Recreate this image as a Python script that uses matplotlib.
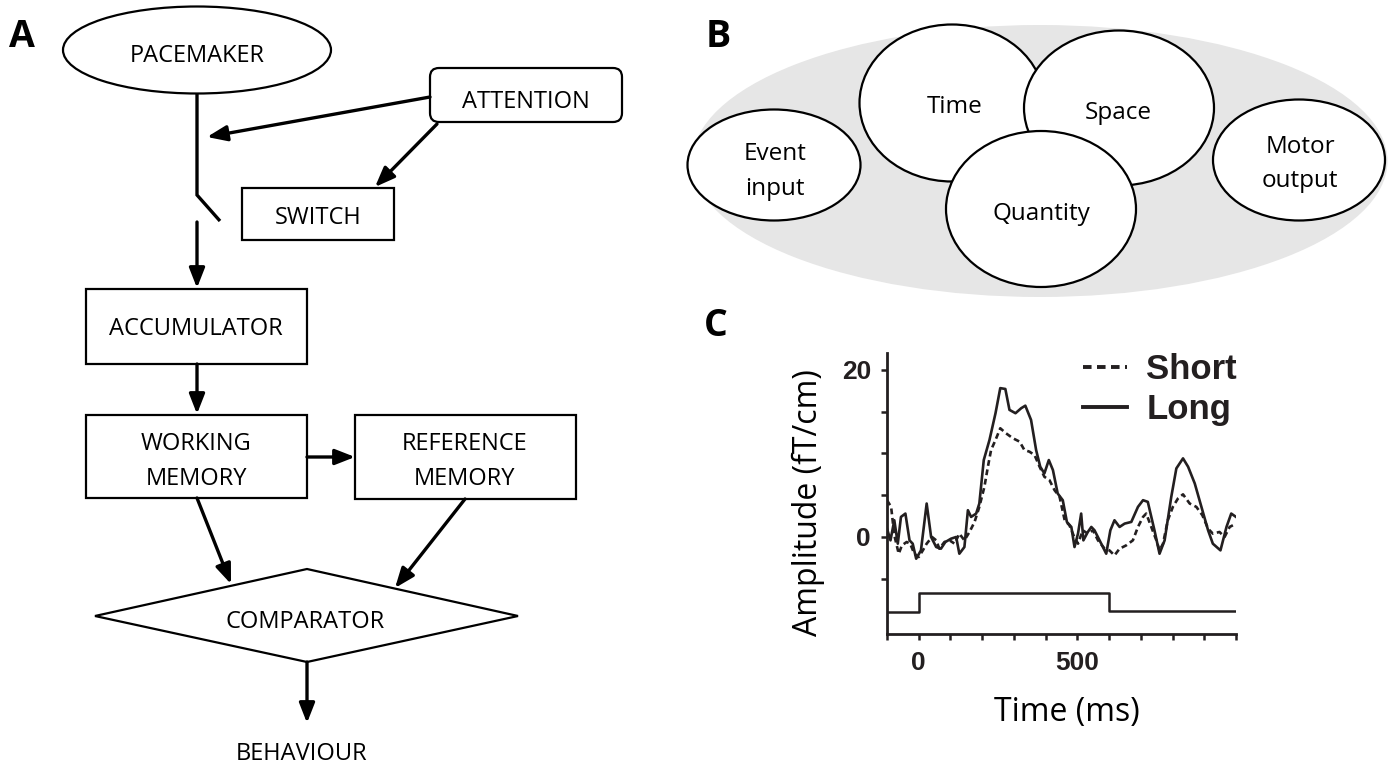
import matplotlib
matplotlib.use('Agg')
import matplotlib.pyplot as plt
from matplotlib.patches import Ellipse, Rectangle, FancyBboxPatch, Polygon
from matplotlib.ticker import FixedLocator, NullFormatter

# ---------------- data (panel C) ----------------
time_long = [-100, -89, -77, -66, -56, -42, -29, -19, -8, 7,
             25, 39, 55, 70, 84, 102, 118, 128, 144, 155,
             165, 181, 191, 205, 223, 242, 257, 273, 286, 305,
             323, 336, 354, 370, 383, 396, 410, 423, 438, 454,
             467, 481, 491, 502, 512, 519, 533, 544, 554, 570,
             591, 604, 617, 633, 649, 670, 691, 707, 722, 743,
             759, 775, 796, 812, 833, 849, 870, 891, 912, 927,
             951, 970, 985, 1000]
amp_long = [1.0, -0.4, 2.0, -0.8, 2.4, 2.8, -0.4, -0.8, -2.6, -1.6,
            4.0, 0.0, -1.2, -1.4, -0.6, -0.2, 0.0, -2.0, -1.2, 3.2,
            2.4, 2.8, 4.0, 9.2, 11.6, 14.8, 17.8, 17.7, 15.2, 14.8,
            15.4, 15.7, 14.0, 10.4, 8.4, 7.6, 9.2, 8.0, 5.2, 4.4,
            1.8, 1.2, -1.2, 0.4, 2.8, -0.4, 0.6, 1.2, 0.8, -0.4,
            -2.0, 0.8, 2.0, 1.2, 1.6, 1.8, 3.6, 4.4, 4.2, 0.8,
            -2.0, -0.4, 4.8, 8.2, 9.4, 8.4, 6.4, 3.6, 0.8, -0.8,
            -1.6, 1.2, 2.8, 2.4]
time_short = [-100, -87, -77, -63, -53, -38, -27, -14, 0, 13,
              25, 42, 55, 65, 81, 97, 113, 128, 144, 160,
              176, 191, 207, 218, 228, 242, 257, 275, 297, 318,
              333, 349, 365, 381, 396, 412, 428, 444, 460, 475,
              488, 502, 517, 533, 549, 565, 586, 601, 617, 633,
              654, 675, 691, 707, 717, 733, 749, 759, 770, 785,
              801, 817, 833, 854, 875, 894, 912, 927, 948, 964,
              980, 1000]
amp_short = [4.4, 3.6, 0.2, -2.0, -1.0, -0.6, -0.8, -2.0, -2.4, -1.6,
             -0.8, 0.0, -0.4, -1.4, -0.6, -0.4, -0.8, 0.4, -0.4, 0.6,
             1.8, 3.6, 6.0, 8.4, 10.4, 11.6, 13.0, 12.4, 11.8, 11.4,
             10.4, 10.2, 9.8, 8.4, 7.2, 6.8, 5.6, 4.8, 2.0, 1.4,
             0.2, -0.8, 0.8, 0.4, 0.8, -0.4, -1.4, -1.6, -2.2, -1.4,
             -1.0, -0.4, 1.2, 2.4, 2.8, 1.2, -0.4, -1.6, -0.8, 2.0,
             3.6, 4.6, 5.1, 4.0, 3.6, 2.6, 1.0, 0.4, 0.6, 0.0,
             1.2, 1.6]
stim_time = [-100, 0, 600, 1000]
stim_level = [-9.0, -6.7, -8.8, -8.8]
xticks_major = [0, 500]
xticks_minor = [-100, 100, 200, 300, 400, 600, 700, 800, 900, 1000]
yticks_major = [0, 20]
yticks_minor = [-5, 5, 10, 15]
legend_labels = ['Short', 'Long']
x_label = 'Time (ms)'
y_label = 'Amplitude (fT/cm)'

# ---------------- diagram text ----------------
panel_labels = ['A', 'B', 'C']
pace_label = 'PACEMAKER'
attention_label = 'ATTENTION'
switch_label = 'SWITCH'
accum_label = 'ACCUMULATOR'
wm_label = ['WORKING', 'MEMORY']
rm_label = ['REFERENCE', 'MEMORY']
comp_label = 'COMPARATOR'
behav_label = 'BEHAVIOUR'
b_labels = ['Time', 'Space', 'Quantity', 'Event', 'input', 'Motor', 'output']

W, H = 1392, 765
FONT = ['Open Sans', 'DejaVu Sans']
ARIAL = ['Liberation Sans', 'DejaVu Sans']

fig = plt.figure(figsize=(W / 100, H / 100), dpi=100)
fig.patch.set_facecolor('white')

# pixel-space axes for diagrams
dax = fig.add_axes([0, 0, 1, 1])
dax.set_xlim(0, W)
dax.set_ylim(H, 0)
dax.axis('off')

TXT = dict(family=FONT, fontsize=17, ha='center', va='baseline', color='black')
LW_BOX = 1.6
LW_ARR = 2.4


def arrow(p0, p1):
    dax.annotate('', xy=p1, xytext=p0,
                 arrowprops=dict(arrowstyle='-|>,head_length=1.2,head_width=0.47',
                                 lw=LW_ARR, color='black', shrinkA=0, shrinkB=0))


def rect(x0, y0, x1, y1, rounded=False):
    if rounded:
        p = FancyBboxPatch((x0, y0), x1 - x0, y1 - y0,
                           boxstyle='round,pad=0,rounding_size=9',
                           fc='white', ec='black', lw=LW_BOX)
    else:
        p = Rectangle((x0, y0), x1 - x0, y1 - y0, fc='white', ec='black', lw=LW_BOX)
    dax.add_patch(p)


# ---- Panel A ----
dax.text(22, 47, panel_labels[0], family=FONT, fontsize=27, fontweight='bold',
         ha='center', va='baseline')
dax.add_patch(Ellipse((197, 50), 268, 87, fc='white', ec='black', lw=LW_BOX))
dax.text(197, 62, pace_label, **TXT)
dax.plot([197, 197, 220], [94, 195, 221], color='black', lw=LW_ARR,
         solid_capstyle='butt', solid_joinstyle='miter')
arrow((197, 222), (197, 288))

rect(430, 68, 622, 122, rounded=True)
dax.text(526, 108, attention_label, **TXT)
arrow((430, 97), (207, 137))
arrow((437, 124), (375, 187))

rect(242, 188, 394, 240)
dax.text(318, 224, switch_label, **TXT)

rect(86, 289, 307, 364)
dax.text(196, 335, accum_label, **TXT)
arrow((197, 364), (197, 414))

rect(86, 415, 307, 498)
dax.text(196, 450, wm_label[0], **TXT)
dax.text(196, 485, wm_label[1], **TXT)
rect(355, 415, 576, 499)
dax.text(465, 450, rm_label[0], **TXT)
dax.text(465, 485, rm_label[1], **TXT)
arrow((307, 457), (355, 457))
arrow((197, 498), (231, 584))
arrow((465, 499), (395, 588))

dax.add_patch(Polygon([(95, 616), (307, 569), (518, 616), (307, 662)], closed=True,
                      fc='white', ec='black', lw=LW_BOX))
dax.text(305, 628, comp_label, **TXT)
arrow((307, 662), (307, 723))
dax.text(302, 760, behav_label, **TXT)

# ---- Panel B ----
dax.text(718, 47, panel_labels[1], family=FONT, fontsize=27, fontweight='bold',
         ha='center', va='baseline')
dax.add_patch(Ellipse((1040, 161), 695, 272, fc='#e6e6e6', ec='none'))
for (cx, cy, w, h) in [(952, 103, 185, 157), (1119, 108, 190, 155),
                       (1041, 209, 190, 156), (774, 165, 173, 111),
                       (1299, 160, 172, 121)]:
    dax.add_patch(Ellipse((cx, cy), w, h, fc='white', ec='black', lw=LW_BOX))
TXTB = dict(TXT)
TXTB['fontsize'] = 17.5
dax.text(955, 113, b_labels[0], **TXTB)
dax.text(1118, 119, b_labels[1], **TXTB)
dax.text(1041, 220, b_labels[2], **TXTB)
dax.text(775, 160, b_labels[3], **TXTB)
t_in = dax.text(775, 195, b_labels[4], **TXTB)
clip = Rectangle((680, 100), 200, 95, transform=dax.transData)
t_in.set_clip_path(clip)
dax.text(1300, 153, b_labels[5], **TXTB)
dax.text(1300, 187, b_labels[6], **TXTB)

# ---- Panel C ----
dax.text(716, 336, panel_labels[2], family=FONT, fontsize=27, fontweight='bold',
         ha='center', va='baseline')

ax = fig.add_axes([887 / W, 1 - 634 / H, 349 / W, 281 / H])
ax.patch.set_alpha(0)
TRACE = '#231f20'
LW_TR = 1.9
l_short, = ax.plot(time_short, amp_short, color=TRACE, lw=LW_TR,
                   linestyle=(0, (2.2, 1.4)), label=legend_labels[0])
l_long, = ax.plot(time_long, amp_long, color=TRACE, lw=LW_TR,
                  label=legend_labels[1])
ax.step(stim_time, stim_level, where='post', color=TRACE, lw=1.8)

ax.set_xlim(-100, 1000)
ax.set_ylim(-11.6, 22.0)
for s in ['top', 'right']:
    ax.spines[s].set_visible(False)
for s in ['left', 'bottom']:
    ax.spines[s].set_linewidth(2.0)
    ax.spines[s].set_color(TRACE)

ax.xaxis.set_major_locator(FixedLocator(xticks_major))
ax.xaxis.set_minor_locator(FixedLocator(xticks_minor))
ax.yaxis.set_major_locator(FixedLocator(yticks_major))
ax.yaxis.set_minor_locator(FixedLocator(yticks_minor))
ax.xaxis.set_minor_formatter(NullFormatter())
ax.yaxis.set_minor_formatter(NullFormatter())
ax.tick_params(which='both', direction='out', length=4.5, width=1.8, color=TRACE)
ax.tick_params(axis='x', which='major', pad=8, labelsize=19)
ax.tick_params(axis='y', which='major', pad=7, labelsize=19)
for lab in ax.get_xticklabels() + ax.get_yticklabels():
    lab.set_fontfamily(ARIAL)
    lab.set_fontweight('bold')
    lab.set_color(TRACE)

ax.set_xlabel(x_label, family=FONT, fontsize=23, va='center', ha='center')
ax.xaxis.set_label_coords((1067 - 887) / 349, (634 - 712) / 281)
ax.set_ylabel(y_label, family=FONT, fontsize=23, va='center', ha='center',
              rotation_mode='default')
ax.yaxis.set_label_coords((808 - 887) / 349, (634 - 503) / 281)

leg = ax.legend(handles=[l_short, l_long], loc='upper left',
                bbox_to_anchor=(1083 / W, 1 - 353 / H),
                bbox_transform=fig.transFigure, frameon=False,
                borderpad=0, borderaxespad=0, handlelength=1.27,
                handletextpad=0.55, labelspacing=0.21,
                prop=dict(family=ARIAL, weight='bold', size=25))
for ln in leg.get_lines():
    ln.set_linewidth(2.8)
for t in leg.get_texts():
    t.set_color(TRACE)

fig.savefig('out.png', dpi=100, facecolor='white')
